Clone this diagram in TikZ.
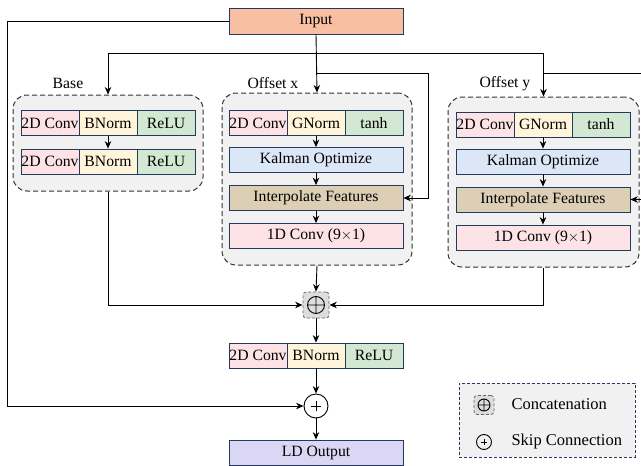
\documentclass[tikz,border=0pt]{standalone}
\usepackage{fontspec}
\setmainfont{Liberation Serif}
\usetikzlibrary{arrows.meta}

\definecolor{inputc}{HTML}{F9BFA3}
\definecolor{pinkc}{HTML}{FDE3E6}
\definecolor{yellowc}{HTML}{FFF5DB}
\definecolor{greenc}{HTML}{D3E8D2}
\definecolor{bluec}{HTML}{DBE7F6}
\definecolor{tanc}{HTML}{DCCFB5}
\definecolor{lilac}{HTML}{DAD6F4}
\definecolor{groupc}{HTML}{F1F1F1}
\definecolor{catc}{HTML}{DDDDDD}
\definecolor{edgec}{HTML}{233A5E}
\definecolor{dashc}{HTML}{333333}

\begin{document}
\begin{tikzpicture}[x=1pt, y=-1pt,
  font=\fontsize{15.7}{18}\selectfont,
  cell/.style={draw=edgec, line width=0.8pt, minimum width=58, minimum height=25, inner sep=0},
  wide/.style={cell, minimum width=174},
  group/.style={draw=dashc, dash pattern=on 5pt off 3pt, line width=1pt, fill=groupc, rounded corners=14pt},
  line/.style={line width=0.9pt, -{Stealth[length=7.5pt,width=6.5pt]}},
  catsym/.style={draw=gray!80!black, dash pattern=on 3pt off 2pt, line width=0.8pt, fill=catc,
    rounded corners=3pt, inner sep=0,
    path picture={\draw[solid, line width=0.9pt, black] (path picture bounding box.center)
      circle[radius=#1] +(-#1,0pt) -- +(#1,0pt) +(0pt,-#1) -- +(0pt,#1);}},
  skipsym/.style={circle, draw=black, line width=0.9pt, inner sep=0, minimum size=#1,
    path picture={\draw[line width=0.7pt] (path picture bounding box.center)
      +(-0.22*#1,0pt) -- +(0.22*#1,0pt) +(0pt,-0.22*#1) -- +(0pt,0.22*#1);}},
  legtext/.style={anchor=west, font=\fontsize{16.5}{19}\selectfont}]
\clip (0,0) rectangle (641,466);

% groups
\node[group, minimum width=190, minimum height=96] (base) at (108,143) {};
\node[group, minimum width=190, minimum height=172] (offx) at (317,179) {};
\node[group, minimum width=191, minimum height=170] (offy) at (543.5,182) {};
\node (lbase) at (68,83) {Base};
\node (loffx) at (273,83) {Offset x};
\node (loffy) at (505,84) {Offset y};

\node[wide, fill=inputc, minimum height=26] (in) at (316,21) {Input};

% base branch
\node[cell, fill=pinkc] (b1a) at (50,123) {2D Conv};
\node[cell, fill=yellowc] (b1b) at (108,123) {BNorm};
\node[cell, fill=greenc] (b1c) at (166,123) {ReLU};
\node[cell, fill=pinkc] (b2a) at (50,161.5) {2D Conv};
\node[cell, fill=yellowc] (b2b) at (108,161.5) {BNorm};
\node[cell, fill=greenc] (b2c) at (166,161.5) {ReLU};

% offset x branch
\node[cell, fill=pinkc] (x1a) at (258,123) {2D Conv};
\node[cell, fill=yellowc] (x1b) at (316,123) {GNorm};
\node[cell, fill=greenc] (x1c) at (374,123) {tanh};
\node[wide, fill=bluec] (xk) at (316,160) {Kalman Optimize};
\node[wide, fill=tanc] (xi) at (316,198) {Interpolate Features};
\node[wide, fill=pinkc] (xc) at (316,236) {1D Conv (9$\times$1)};

% offset y branch
\node[cell, fill=pinkc] (y1a) at (485,124.5) {2D Conv};
\node[cell, fill=yellowc] (y1b) at (543,124.5) {GNorm};
\node[cell, fill=greenc] (y1c) at (601,124.5) {tanh};
\node[wide, fill=bluec] (yk) at (543,161.5) {Kalman Optimize};
\node[wide, fill=tanc] (yi) at (543,199.5) {Interpolate Features};
\node[wide, fill=pinkc] (yc) at (543,237.5) {1D Conv (9$\times$1)};

% fusion
\node[catsym=8.5pt, minimum width=26, minimum height=26] (cat) at (316,305) {};
\node[cell, fill=pinkc] (r4a) at (258,355.5) {2D Conv};
\node[cell, fill=yellowc] (r4b) at (316,355.5) {BNorm};
\node[cell, fill=greenc] (r4c) at (374,355.5) {ReLU};
\node[skipsym=24pt] (skip) at (316,406) {};
\node[wide, fill=lilac] (out) at (316,452.5) {LD Output};

% legend
\node[draw=edgec, dash pattern=on 3pt off 2pt, line width=0.8pt, fill=groupc,
  minimum width=176, minimum height=74] (legend) at (547,420) {};
\node[catsym=6pt, minimum width=20, minimum height=19] (lcat) at (484,405) {};
\node[legtext] (lcattxt) at (508,404) {Concatenation};
\node[skipsym=15pt] (lskip) at (484,442) {};
\node[legtext] (lskiptxt) at (508,442) {Skip Connection};

% connectors
\coordinate (sp1) at (316,53);
\coordinate (sp2) at (316,73);
\coordinate (sp3) at (543.5,73);
\coordinate (ex) at (428,73);
\coordinate (ey) at (655,73);
\coordinate (sk) at (7,21);
\draw[line] (in.south) -- (offx.north);
\draw[line] (sp1) -| (base.north);
\draw[line] (sp1) -| (offy.north);
\draw[line] (sp2) -- (ex) |- (xi.east);
\draw[line] (sp3) -- (ey) |- (yi.east);
\draw[line] (in.west) -- (sk) |- (skip.west);
\draw[line] (b1b.south) -- (b2b.north);
\draw[line] (x1b.south) -- (xk.north);
\draw[line] (xk.south) -- (xi.north);
\draw[line] (xi.south) -- (xc.north);
\draw[line] (y1b.south) -- (yk.north);
\draw[line] (yk.south) -- (yi.north);
\draw[line] (yi.south) -- (yc.north);
\draw[line] (base.south) |- (cat.west);
\draw[line] (offx.south) -- (cat.north);
\draw[line] (offy.south) |- (cat.east);
\draw[line] (cat.south) -- (r4b.north);
\draw[line] (r4b.south) -- (skip.north);
\draw[line] (skip.south) -- (out.north);
\end{tikzpicture}
\end{document}
